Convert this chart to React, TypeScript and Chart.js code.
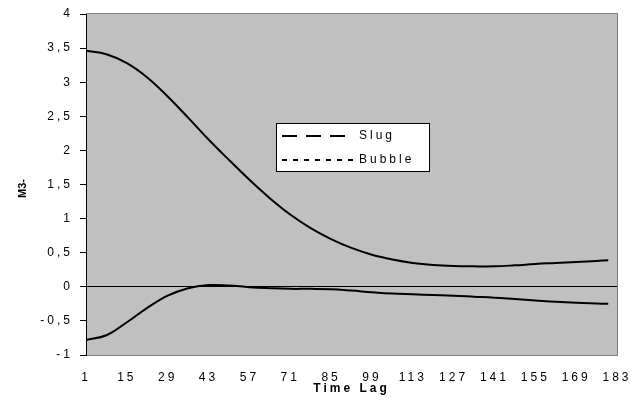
import React, { useEffect, useRef } from "react";
import { Chart, registerables } from "chart.js";

Chart.register(...registerables);

const lags = [1, 8, 15, 22, 29, 36, 43, 50, 57, 64, 71, 78, 85, 92, 99, 106, 113, 120, 127, 134, 141, 148, 155, 162, 169, 176, 180];
// Slug series
const slug = [3.46, 3.41, 3.28, 3.07, 2.79, 2.48, 2.16, 1.86, 1.57, 1.3, 1.06, 0.86, 0.7, 0.57, 0.47, 0.4, 0.35, 0.32, 0.305, 0.3, 0.3, 0.315, 0.335, 0.35, 0.365, 0.38, 0.39];
// Bubble series
const bubble = [-0.78, -0.71, -0.52, -0.31, -0.13, -0.02, 0.025, 0.02, -0.005, -0.02, -0.03, -0.03, -0.035, -0.055, -0.08, -0.1, -0.11, -0.12, -0.13, -0.145, -0.16, -0.18, -0.2, -0.22, -0.235, -0.245, -0.25];

const seriesNames = ["Slug", "Bubble"];
const xTitle = "Time Lag";
const yTitle = "M3-";
const xMin = 1;
const xMax = 183;
const xStep = 14;
const yMin = -1;
const yMax = 4;
const yStep = 0.5;

const FAMILY = '"Liberation Sans", Arial, sans-serif';
const SPACING = "3px";

const excelLook = {
  id: "excelLook",
  beforeUpdate(chart: any) {
    chart.ctx.letterSpacing = SPACING;
  },
  beforeLayout(chart: any) {
    chart.ctx.letterSpacing = SPACING;
  },
  beforeDraw(chart: any) {
    const { ctx, chartArea: a } = chart;
    ctx.letterSpacing = SPACING;
    ctx.save();
    ctx.fillStyle = "#C0C0C0";
    ctx.fillRect(a.left, a.top, a.right - a.left, a.bottom - a.top);
    ctx.strokeStyle = "#808080";
    ctx.lineWidth = 1;
    ctx.beginPath();
    ctx.moveTo(a.left, a.top - 0.5);
    ctx.lineTo(a.right + 0.5, a.top - 0.5);
    ctx.lineTo(a.right + 0.5, a.bottom + 1);
    ctx.stroke();
    ctx.restore();
  },
  afterDraw(chart: any) {
    const { ctx, chartArea: a } = chart;
    ctx.save();
    // Legend box
    const lx = a.left + 190;
    const ly = a.top + 109;
    const lw = 154;
    const lh = 49;
    ctx.letterSpacing = "0px";
    ctx.fillStyle = "#ffffff";
    ctx.fillRect(lx, ly, lw, lh);
    ctx.strokeStyle = "#000000";
    ctx.lineWidth = 1;
    ctx.strokeRect(lx + 0.5, ly + 0.5, lw - 1, lh - 1);

    const row1 = ly + 13;
    const row2 = ly + 37;
    ctx.lineWidth = 2;
    ctx.setLineDash([15, 9]);
    ctx.beginPath();
    ctx.moveTo(lx + 6, row1);
    ctx.lineTo(lx + 69, row1);
    ctx.stroke();
    ctx.setLineDash([5, 6]);
    ctx.beginPath();
    ctx.moveTo(lx + 6, row2);
    ctx.lineTo(lx + 82, row2);
    ctx.stroke();
    ctx.setLineDash([]);

    ctx.letterSpacing = SPACING;
    ctx.fillStyle = "#000000";
    ctx.font = `12px ${FAMILY}`;
    ctx.textAlign = "left";
    ctx.textBaseline = "middle";
    ctx.fillText(seriesNames[0], lx + 83, row1);
    ctx.fillText(seriesNames[1], lx + 83, row2);

    // Y axis title
    ctx.letterSpacing = "0px";
    ctx.font = `bold 11px ${FAMILY}`;
    ctx.textAlign = "center";
    ctx.translate(22.5, (a.top + a.bottom) / 2 + 4);
    ctx.rotate(-Math.PI / 2);
    ctx.fillText(yTitle, 0, 0);
    ctx.restore();
    ctx.letterSpacing = SPACING;
  },
};

export default function App() {
  const ref = useRef<HTMLCanvasElement>(null);

  useEffect(() => {
    document.body.style.margin = "0";
    const canvas = ref.current;
    if (!canvas) return;
    const tickFont = { family: FAMILY, size: 12 };
    const chart = new Chart(canvas, {
      type: "line",
      data: {
        datasets: [
          {
            label: seriesNames[0],
            data: lags.map((x, i) => ({ x, y: slug[i] })),
            borderColor: "#000000",
            borderWidth: 2,
            pointRadius: 0,
            tension: 0.4,
            fill: false,
          },
          {
            label: seriesNames[1],
            data: lags.map((x, i) => ({ x, y: bubble[i] })),
            borderColor: "#000000",
            borderWidth: 2,
            pointRadius: 0,
            tension: 0.4,
            fill: false,
          },
        ],
      },
      options: {
        responsive: false,
        animation: false,
        events: [],
        layout: { padding: { top: 14, right: 14, left: 0, bottom: 0 } },
        plugins: {
          legend: { display: false },
          tooltip: { enabled: false },
        },
        scales: {
          x: {
            type: "linear",
            min: xMin,
            max: xMax,
            ticks: {
              stepSize: xStep,
              maxTicksLimit: 100,
              autoSkip: false,
              maxRotation: 0,
              minRotation: 0,
              padding: 15,
              color: "#000000",
              font: tickFont,
              callback: (v: any) => String(v),
            },
            grid: { drawOnChartArea: false, drawTicks: false },
            border: { display: true, color: "#808080", width: 1 },
            title: {
              display: true,
              text: xTitle,
              color: "#000000",
              font: { family: FAMILY, size: 12, weight: "bold" },
              padding: { top: 0, bottom: 5 },
            },
            afterFit: (s: any) => {
              s.height = 46;
              s.paddingLeft = 0;
              s.paddingRight = 0;
            },
          },
          y: {
            type: "linear",
            min: yMin,
            max: yMax,
            ticks: {
              stepSize: yStep,
              padding: 7,
              color: "#000000",
              font: tickFont,
              callback: (v: any) => String(v).replace(".", ","),
            },
            grid: {
              drawOnChartArea: true,
              color: (c: any) => (c.tick && c.tick.value === 0 ? "#000000" : "rgba(0,0,0,0)"),
              tickColor: "#000000",
              tickLength: 6,
              lineWidth: 1,
            },
            border: { display: true, color: "#000000", width: 1 },
            afterFit: (s: any) => {
              s.width = 86;
              s.paddingTop = 0;
              s.paddingBottom = 0;
            },
          },
        },
      },
      plugins: [excelLook],
    } as any);
    return () => chart.destroy();
  }, []);

  return (
    <div style={{ width: 631, height: 401 }}>
      <canvas ref={ref} width={631} height={401} style={{ display: "block" }} />
    </div>
  );
}
